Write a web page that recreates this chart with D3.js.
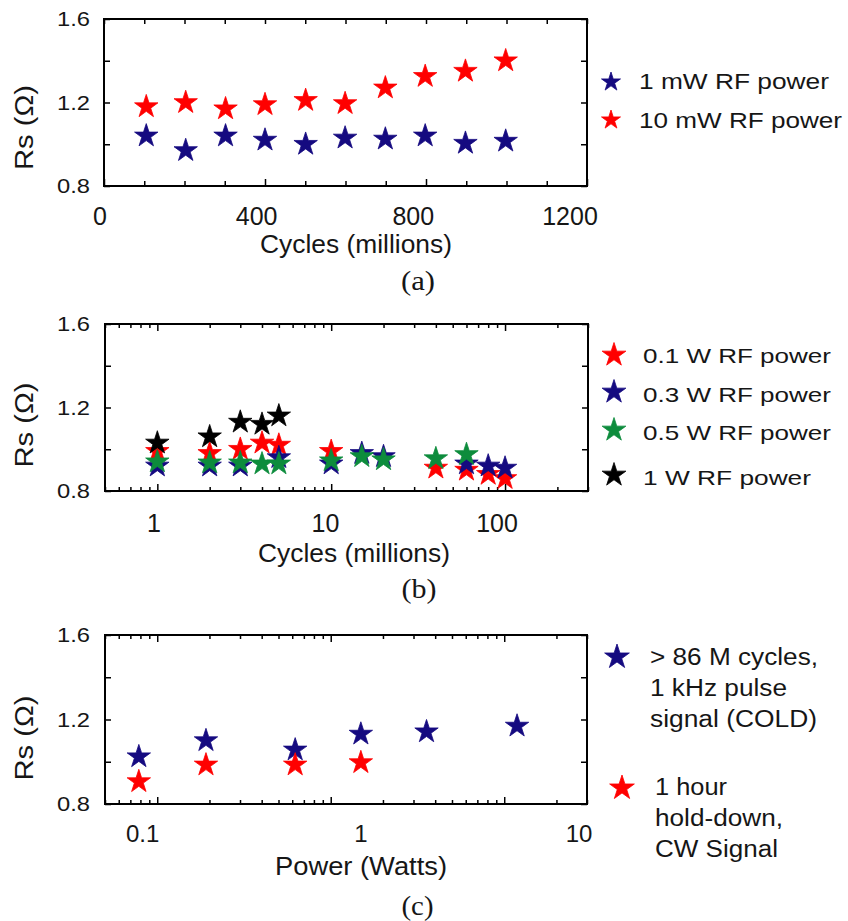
<!DOCTYPE html>
<html>
<head>
<meta charset="utf-8">
<script src="https://cdn.jsdelivr.net/npm/d3@7"></script>
<style>
  body { margin: 0; background: #fff; }
  text { font-family: "Liberation Sans", Arial, sans-serif; fill: #161616; }
</style>
</head>
<body>
<svg id="chart" width="848" height="921"></svg>
<script>
// ---------- data ----------
// (a) Rs vs. cycles (millions), linear axis
const cyclesA = [105, 203, 302, 400, 501, 599, 699, 798, 898, 998];
const rsA_1mW = [1.04, 0.97, 1.04, 1.02, 1.00, 1.03, 1.025, 1.04, 1.005, 1.015];
const rsA_10mW = [1.18, 1.20, 1.17, 1.19, 1.21, 1.195, 1.27, 1.325, 1.35, 1.40];
const xTickLabelsA = [0, 400, 800, 1200];

// (b) Rs vs. cycles (millions), log axis
const cyclesB_01 = [1, 2, 3, 4, 5, 10, 40, 60, 80, 100];
const rsB_01 = [0.99, 0.98, 1.00, 1.03, 1.02, 0.99, 0.91, 0.90, 0.88, 0.86];
const cyclesB_03 = [1, 2, 3, 5, 10, 15, 20, 60, 80, 100];
const rsB_03 = [0.92, 0.92, 0.92, 0.96, 0.93, 0.98, 0.965, 0.93, 0.92, 0.91];
const cyclesB_05 = [1, 2, 3, 4, 5, 10, 15, 20, 40, 60];
const rsB_05 = [0.94, 0.935, 0.935, 0.93, 0.93, 0.945, 0.965, 0.95, 0.955, 0.975];
const cyclesB_1 = [1, 2, 3, 4, 5];
const rsB_1 = [1.03, 1.06, 1.13, 1.12, 1.16];
const xTickLabelsB = [1, 10, 100];

// (c) Rs vs. power (W), log axis
const powerC_cold = [0.096, 0.195, 0.5, 1.0, 2.0, 5.2];
const rsC_cold = [1.024, 1.10, 1.056, 1.131, 1.142, 1.169];
const powerC_hold = [0.096, 0.195, 0.5, 1.0];
const rsC_hold = [0.906, 0.985, 0.985, 0.996];
const xTickLabelsC = [0.1, 1, 10];

const yTicks = [0.8, 1.0, 1.2, 1.4, 1.6];
const yTickLabels = [0.8, 1.2, 1.6];

// ---------- styles ----------
const NAVY = "#150a80", RED = "#ff0000", GREEN = "#0d8c3c", BLACK = "#000000";
const KA = 0.8908130915292852;
const starPath = R => d3.symbol().type(d3.symbolStar).size(R * R / KA)();

const svg = d3.select("#chart");

function label(g, x, y, s, o) {
  const t = g.append("text").attr("x", x).attr("y", y).text(s)
    .attr("font-size", o.size).attr("text-anchor", o.anchor || "start");
  if (o.width) t.attr("textLength", o.width).attr("lengthAdjust", "spacingAndGlyphs");
  if (o.serif) t.style("font-family", '"Liberation Serif", "Times New Roman", serif');
  if (o.rotate) t.attr("transform", `rotate(-90,${x},${y})`);
  return t;
}

function starAt(g, cx, cy, color, R) {
  return g.append("path").attr("d", starPath(R))
    .attr("transform", `translate(${cx},${cy})`)
    .attr("fill", color).attr("stroke", color).attr("stroke-width", 0.8)
    .attr("stroke-linejoin", "round");
}

function stars(g, xs, ys, x, y, color, R) {
  g.append("g").selectAll("path").data(xs).join("path")
    .attr("d", starPath(R))
    .attr("transform", (d, i) => `translate(${x(d)},${y(ys[i])})`)
    .attr("fill", color).attr("stroke", color).attr("stroke-width", 0.8)
    .attr("stroke-linejoin", "round");
}

function ticks(g, axis, tx, ty) {
  const a = g.append("g").attr("transform", `translate(${tx},${ty})`).call(axis);
  a.select(".domain").remove();
  a.selectAll("line").attr("stroke", "#000").attr("stroke-width", 1.5);
  a.selectAll("text").remove();
}

function yAxisBlock(g, y, L, R, top, bottom, labelCy) {
  ticks(g, d3.axisLeft(y).tickValues(yTicks).tickSize(-6), L, 0);
  ticks(g, d3.axisRight(y).tickValues(yTicks).tickSize(-6), R, 0);
  yTickLabels.forEach(v => label(g, 90, y(v) + 7, d3.format(".1f")(v), { size: 20, width: 33, anchor: "end" }));
  label(g, 33, labelCy, "Rs (\u03A9)", { size: 25, width: 85, anchor: "middle", rotate: true });
  g.append("rect").attr("x", L).attr("y", top).attr("width", R - L).attr("height", bottom - top)
    .attr("fill", "none").attr("stroke", "#000").attr("stroke-width", 2);
}

function logTicks(g, x, top, bottom) {
  const all = x.ticks();
  const major = all.filter(v => Math.abs(Math.log10(v) - Math.round(Math.log10(v))) < 1e-9);
  const minor = all.filter(v => !major.includes(v));
  ticks(g, d3.axisBottom(x).tickValues(major).tickSize(-7), 0, bottom);
  ticks(g, d3.axisBottom(x).tickValues(minor).tickSize(-4), 0, bottom);
  ticks(g, d3.axisTop(x).tickValues(major).tickSize(-7), 0, top);
  ticks(g, d3.axisTop(x).tickValues(minor).tickSize(-4), 0, top);
}

// ---------- panel (a) ----------
{
  const g = svg.append("g");
  const L = 104, R = 587, T = 19, B = 186;
  const x = d3.scaleLinear([0, 1200], [L, R]);
  const y = d3.scaleLinear([0.8, 1.6], [B, T]);
  const xLab = d3.scaleLinear([0, 1200], [100, 570]);
  const tv = d3.range(0, 1201, 100);
  const tMajor = tv.filter(v => v % 400 === 0), tMinor = tv.filter(v => v % 400 !== 0);
  ticks(g, d3.axisBottom(x).tickValues(tMajor).tickSize(-7), 0, B);
  ticks(g, d3.axisBottom(x).tickValues(tMinor).tickSize(-5), 0, B);
  ticks(g, d3.axisTop(x).tickValues(tv).tickSize(-5), 0, T);
  yAxisBlock(g, y, L, R, T, B, 127.5);
  xTickLabelsA.forEach(v => label(g, xLab(v), 225, String(v), { size: 25, anchor: "middle" }));
  label(g, 356, 252.7, "Cycles (millions)", { size: 25, width: 192, anchor: "middle" });
  label(g, 418, 290, "(a)", { size: 27, width: 34, anchor: "middle", serif: true });

  stars(g, cyclesA, rsA_1mW, x, y, NAVY, 12.3);
  stars(g, cyclesA, rsA_10mW, x, y, RED, 12.3);

  const leg = [
    { c: NAVY, t: "1 mW RF power", cy: 82, by: 89.3, w: 190 },
    { c: RED, t: "10 mW RF power", cy: 120, by: 128.3, w: 203 }
  ];
  leg.forEach(d => {
    starAt(g, 611, d.cy, d.c, 10);
    label(g, 639, d.by, d.t, { size: 22, width: d.w });
  });
}

// ---------- panel (b) ----------
{
  const g = svg.append("g");
  const L = 105, R = 588, T = 324, B = 491;
  const x = d3.scaleLog([0.5, 300], [L, R]);
  const y = d3.scaleLinear([0.8, 1.6], [B, T]);
  const xLab = d3.scaleLog([1, 100], [154, 497]);
  logTicks(g, x, T, B);
  yAxisBlock(g, y, L, R, T, B, 425);
  xTickLabelsB.forEach(v => label(g, xLab(v), 531.7, String(v), { size: 25, anchor: "middle" }));
  label(g, 354, 561.7, "Cycles (millions)", { size: 25, width: 192, anchor: "middle" });
  label(g, 419, 598, "(b)", { size: 27, width: 35, anchor: "middle", serif: true });

  stars(g, cyclesB_01, rsB_01, x, y, RED, 12.3);
  stars(g, cyclesB_03, rsB_03, x, y, NAVY, 12.3);
  stars(g, cyclesB_05, rsB_05, x, y, GREEN, 12.3);
  stars(g, cyclesB_1, rsB_1, x, y, BLACK, 12.3);

  const leg = [
    { c: RED, t: "0.1 W RF power", cy: 355, by: 363.3, w: 188 },
    { c: NAVY, t: "0.3 W RF power", cy: 392, by: 401.7, w: 188 },
    { c: GREEN, t: "0.5 W RF power", cy: 430, by: 440, w: 188 },
    { c: BLACK, t: "1 W RF power", cy: 475, by: 485, w: 168 }
  ];
  leg.forEach(d => {
    starAt(g, 614, d.cy, d.c, 12.5);
    label(g, 643, d.by, d.t, { size: 21, width: d.w });
  });
}

// ---------- panel (c) ----------
{
  const g = svg.append("g");
  const L = 105, R = 587, T = 635, B = 804;
  const xFrame = d3.scaleLog([0.05, 30], [L, R]);
  const x = d3.scaleLog([0.1, 10], [142.7, 579]);
  const y = d3.scaleLinear([0.8, 1.6], [B, T]);
  logTicks(g, xFrame, T, B);
  yAxisBlock(g, y, L, R, T, B, 738);
  xTickLabelsC.forEach(v => label(g, x(v), 841.7, String(v), { size: 24, anchor: "middle" }));
  label(g, 361, 875, "Power (Watts)", { size: 25, width: 172, anchor: "middle" });
  label(g, 417.5, 915, "(c)", { size: 27, width: 32, anchor: "middle", serif: true });

  stars(g, powerC_cold, rsC_cold, x, y, NAVY, 12.3);
  stars(g, powerC_hold, rsC_hold, x, y, RED, 12.3);

  starAt(g, 617, 657, NAVY, 13);
  [["> 86 M cycles,", 665, 168], ["1 kHz pulse", 696, 137], ["signal (COLD)", 727, 167]]
    .forEach(([t, by, w]) => label(g, 650, by, t, { size: 23, width: w }));
  starAt(g, 622, 788, RED, 13);
  [["1 hour", 795, 72], ["hold-down,", 826, 128], ["CW Signal", 857, 123]]
    .forEach(([t, by, w]) => label(g, 655, by, t, { size: 23, width: w }));
}
</script>
</body>
</html>
